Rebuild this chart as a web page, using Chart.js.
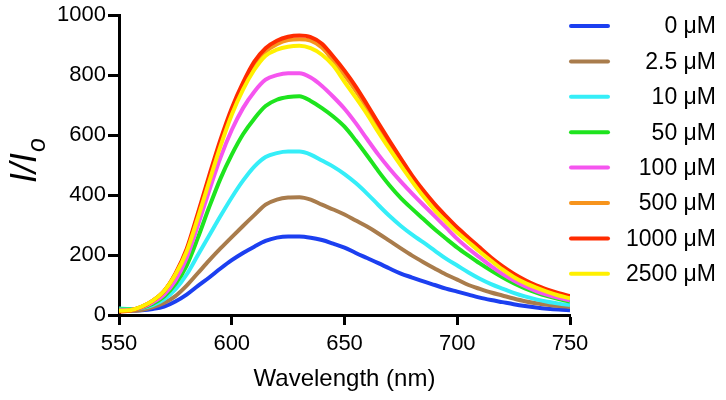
<!DOCTYPE html>
<html>
<head>
<meta charset="utf-8">
<script src="https://cdn.jsdelivr.net/npm/chart.js@4.4.1/dist/chart.umd.min.js"></script>
<style>
  html, body { margin: 0; padding: 0; background: #fff; }
  #wrap { width: 726px; height: 400px; }
</style>
</head>
<body>
<div id="wrap"><canvas id="grafica" width="726" height="400"></canvas></div>
<script>
// longitudes de onda (nm)
var wavelengths = [550, 555, 560, 565, 570, 575, 580, 585, 590, 595, 600, 605, 610, 615, 620, 625, 630, 635, 640, 645, 650,
                   655, 660, 665, 670, 675, 680, 685, 690, 695, 700, 705, 710, 715, 720, 725, 730, 735, 740, 745, 750];

var seriesLabels = ['0 \u03bcM', '2.5 \u03bcM', '10 \u03bcM', '50 \u03bcM', '100 \u03bcM', '500 \u03bcM', '1000 \u03bcM', '2500 \u03bcM'];
var seriesColors = ['#1c3ff0', '#a97c4c', '#35eef8', '#1ee41e', '#f555ef', '#f7941d', '#ff2b00', '#fff000'];

var c0 = [18, 15, 16, 20, 28, 45, 68, 97, 125, 155, 183, 207, 228, 247, 258, 262, 262, 258, 250, 238, 225,
          207, 190, 173, 155, 138, 125, 112, 100, 88, 78, 68, 58, 50, 43, 36, 30, 25, 21, 18, 16];
var c2_5 = [15, 14, 17, 26, 40, 63, 98, 140, 182, 222, 260, 297, 333, 368, 385, 392, 393, 385, 368, 352, 335,
            315, 295, 272, 247, 222, 198, 176, 155, 135, 118, 100, 87, 75, 65, 55, 46, 39, 34, 30, 27];
var c10 = [22, 20, 23, 33, 52, 85, 135, 200, 265, 330, 392, 448, 495, 527, 540, 545, 545, 535, 515, 495, 470,
           440, 405, 367, 330, 297, 268, 242, 215, 188, 165, 142, 121, 103, 88, 74, 62, 52, 44, 38, 33];
var c50 = [18, 18, 24, 38, 62, 103, 165, 258, 360, 455, 535, 603, 655, 697, 718, 727, 730, 714, 690, 662, 628,
           582, 532, 480, 432, 390, 354, 320, 286, 255, 225, 198, 172, 148, 126, 106, 89, 75, 63, 53, 45];
var c100 = [15, 17, 25, 42, 68, 115, 190, 300, 415, 525, 617, 690, 745, 785, 800, 806, 806, 792, 764, 728, 688,
            640, 587, 535, 488, 445, 405, 367, 330, 292, 254, 221, 192, 163, 137, 115, 96, 80, 67, 57, 49];
var c500 = [12, 15, 27, 47, 79, 135, 215, 333, 455, 575, 680, 765, 832, 878, 903, 917, 920, 915, 892, 848, 800,
            748, 690, 630, 570, 513, 458, 408, 363, 322, 285, 252, 218, 186, 157, 132, 112, 95, 81, 69, 59];
var c1000 = [12, 15, 27, 48, 80, 138, 220, 340, 465, 585, 690, 775, 845, 890, 915, 928, 932, 927, 905, 862, 815,
             762, 702, 640, 580, 522, 465, 415, 370, 330, 292, 258, 225, 192, 163, 138, 117, 99, 85, 73, 63];
var c2500 = [14, 16, 28, 48, 80, 135, 212, 325, 445, 563, 668, 752, 818, 865, 885, 895, 898, 890, 868, 832, 778,
             725, 670, 610, 553, 498, 445, 395, 350, 312, 275, 243, 211, 181, 152, 127, 107, 91, 77, 65, 56];

var seriesValues = [c0, c2_5, c10, c50, c100, c500, c1000, c2500];

var xTicks = [550, 600, 650, 700, 750];
var yTicks = [0, 200, 400, 600, 800, 1000];

var FONT = "'Liberation Sans', Arial, Helvetica, sans-serif";

// leyenda a la derecha, texto alineado a la derecha
var leyendaPlugin = {
  id: 'leyenda',
  afterDraw: function(chart) {
    var ctx = chart.ctx;
    ctx.save();
    chart.data.datasets.forEach(function(ds, i) {
      var y = 26 + i * 35.4;
      ctx.strokeStyle = ds.borderColor;
      ctx.lineWidth = 4;
      ctx.lineCap = 'round';
      ctx.beginPath();
      ctx.moveTo(571, y);
      ctx.lineTo(608, y);
      ctx.stroke();
      ctx.fillStyle = '#000';
      ctx.font = '23px ' + FONT;
      ctx.textAlign = 'right';
      ctx.textBaseline = 'middle';
      ctx.fillText(ds.label, 716, y + 1);
    });
    ctx.restore();
  }
};

// titulo del eje y con subindice
var tituloYPlugin = {
  id: 'tituloY',
  afterDraw: function(chart) {
    var ctx = chart.ctx;
    ctx.save();
    ctx.translate(36, 183);
    ctx.rotate(-Math.PI / 2);
    ctx.fillStyle = '#000';
    ctx.textAlign = 'left';
    ctx.textBaseline = 'alphabetic';
    ctx.font = 'italic 36px ' + FONT;
    ctx.fillText('I/I', 0, 0);
    var w = ctx.measureText('I/I').width;
    ctx.font = 'italic 25px ' + FONT;
    ctx.fillText('o', w + 1, 9);
    ctx.restore();
  }
};

var datasets = seriesValues.map(function(vals, i) {
  return {
    label: seriesLabels[i],
    data: wavelengths.map(function(w, j) { return { x: w, y: vals[j] }; }),
    borderColor: seriesColors[i],
    backgroundColor: seriesColors[i],
    borderWidth: 4,
    pointRadius: 0,
    cubicInterpolationMode: 'monotone',
    fill: false,
    order: -i
  };
});

var myChart = new Chart(document.getElementById('grafica'), {
  type: 'line',
  data: { datasets: datasets },
  plugins: [leyendaPlugin, tituloYPlugin],
  options: {
    responsive: false,
    devicePixelRatio: 1,
    animation: false,
    layout: { padding: { left: 0, top: 15, right: 156, bottom: 0 } },
    plugins: {
      legend: { display: false },
      tooltip: { enabled: false }
    },
    scales: {
      x: {
        type: 'linear',
        min: 550,
        max: 750,
        afterFit: function(scale) { scale.height = 85; },
        afterBuildTicks: function(scale) { scale.ticks = xTicks.map(function(v) { return { value: v }; }); },
        border: { color: '#000', width: 3 },
        grid: { drawOnChartArea: false, drawTicks: true, tickLength: 10, tickWidth: 3, tickColor: '#000', color: '#000' },
        ticks: {
          color: '#000', padding: 6, maxRotation: 0,
          font: { family: FONT, size: 22 },
          callback: function(v) { return String(v); }
        },
        title: {
          display: true,
          text: 'Wavelength (nm)',
          color: '#000',
          padding: { top: 0, bottom: 6 },
          font: { family: FONT, size: 24 }
        }
      },
      y: {
        min: 0,
        max: 1000,
        afterFit: function(scale) { scale.width = 119; },
        afterBuildTicks: function(scale) { scale.ticks = yTicks.map(function(v) { return { value: v }; }); },
        border: { color: '#000', width: 3 },
        grid: { drawOnChartArea: false, drawTicks: true, tickLength: 11, tickWidth: 3, tickColor: '#000', color: '#000' },
        ticks: {
          color: '#000', padding: 2,
          font: { family: FONT, size: 22 },
          callback: function(v) { return String(v); }
        }
      }
    }
  }
});
</script>
</body>
</html>
